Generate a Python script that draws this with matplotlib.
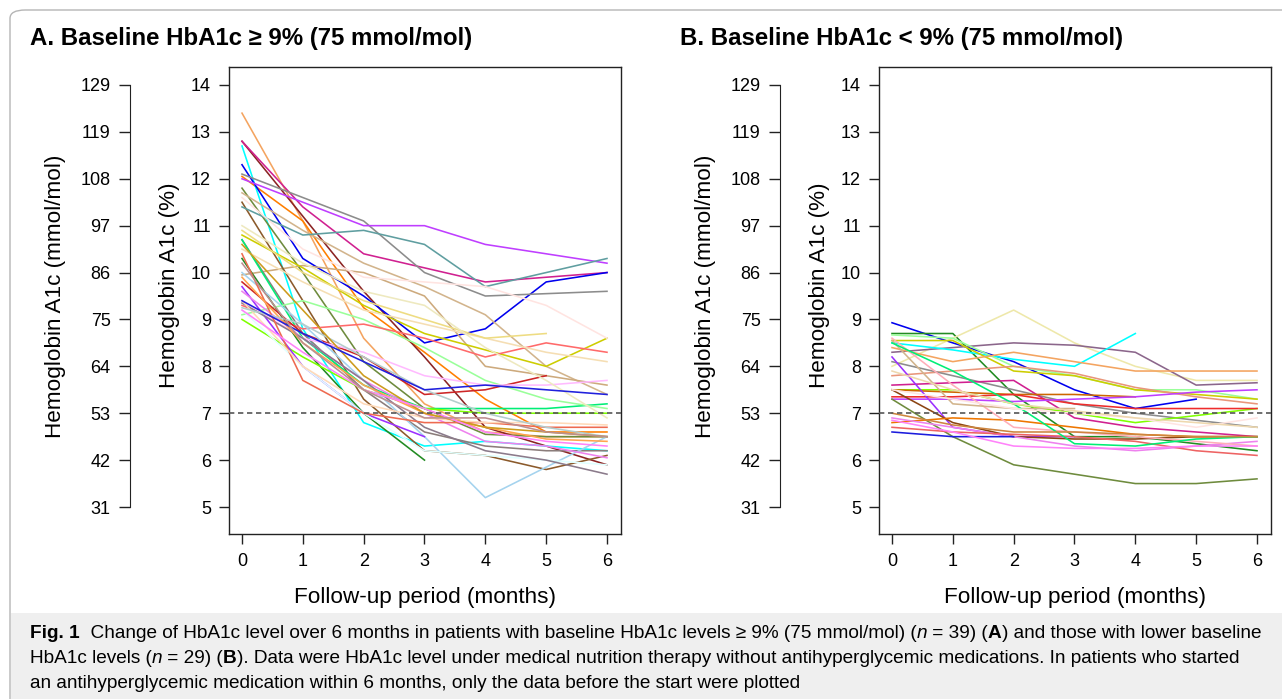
import numpy as np
import matplotlib
matplotlib.use("Agg")
import matplotlib.pyplot as plt
from matplotlib.patches import FancyBboxPatch, Rectangle
from matplotlib.transforms import IdentityTransform

nan = np.nan
months = [0, 1, 2, 3, 4, 5, 6]
pct_ticks = [5, 6, 7, 8, 9, 10, 11, 12, 13, 14]
mmol_labels = ["31", "42", "53", "64", "75", "86", "97", "108", "119", "129"]
target = 7

# Panel A: baseline HbA1c >= 9%  (HbA1c %, months 0..6)
colors_a = ["#F4A460", "#FF7F00", "#8B2323", "#D02090", "#00FFFF", "#0000EE", "#8C8C8C",
            "#BF3EFF", "#6E8B3D", "#D2B48C", "#CDAA7D", "#8B5A2B", "#5F9EA0", "#CDCD00",
            "#8B7D7B", "#228B22", "#00EE76", "#7FFF00", "#9AFF9A", "#FF6A6A", "#CD2626",
            "#A4D3EE", "#9B30FF", "#EE82EE", "#FFBBFF", "#E0FFFF", "#8B7B8B", "#EE6A50",
            "#F5DEB3", "#EEDC82", "#EEE9BF", "#FFE4E1", "#FFDAB9", "#FFA54F", "#B4CDCD",
            "#CD9B1D", "#2020DD", "#FF83FA", "#BC8F8F"]
values_a = [
    [13.4, 11.1, 8.6, 7.2, 6.6, 6.5, 6.5],
    [12.05, 11.1, 9.25, 8.3, 7.3, 6.6, 6.6],
    [12.8, 11.2, 9.6, 8.2, 6.7, 6.3, 5.9],
    [12.8, 11.4, 10.4, 10.1, 9.8, 9.9, 10.0],
    [12.7, 8.8, 6.8, 6.3, 6.4, 6.3, 6.2],
    [12.3, 10.3, 9.5, 8.5, 8.8, 9.8, 10.0],
    [12.1, 11.6, 11.1, 10.0, 9.5, 9.55, 9.6],
    [12.0, 11.5, 11.0, 11.0, 10.6, 10.4, 10.2],
    [11.8, 10.0, 8.1, 7.1, 6.55, 6.5, 6.5],
    [11.7, 10.9, 10.2, 9.7, 9.1, 8.0, 7.4],
    [9.95, 10.15, 10.0, 9.5, 8.0, 7.8, 7.6],
    [11.5, 9.4, 7.3, 6.2, 6.1, 5.8, 6.1],
    [11.4, 10.8, 10.9, 10.6, 9.7, 10.0, 10.3],
    [10.8, 10.1, 9.3, 8.7, 8.35, 8.0, 8.6],
    [10.7, 8.7, 7.5, 6.6, 6.3, 6.2, 6.2],
    [10.3, 8.4, 7.0, 6.0, nan, nan, nan],
    [10.7, 8.6, 7.6, 7.1, 7.1, 7.1, 7.2],
    [9.0, 8.2, 7.5, 7.1, 7.0, 7.0, 7.0],
    [9.1, 9.4, 9.0, 8.4, 7.7, 7.3, 7.1],
    [9.3, 8.8, 8.9, 8.6, 8.2, 8.5, 8.3],
    [9.8, 8.7, 8.2, 7.4, 7.5, 7.8, nan],
    [10.0, 8.9, 7.7, 6.5, 5.2, 5.85, 6.5],
    [9.7, 8.0, 7.0, 6.5, nan, nan, nan],
    [9.6, 8.6, 7.7, 7.0, 6.4, 6.3, 6.05],
    [9.4, 8.6, 8.3, 7.8, 7.6, 7.6, 7.7],
    [9.2, 8.0, 7.0, 6.2, 6.1, 6.0, 5.9],
    [9.35, 8.6, 7.7, 6.7, 6.2, 6.0, 5.7],
    [10.4, 7.7, 7.0, 6.8, 6.8, 6.7, 6.7],
    [10.5, 9.8, 9.2, 8.9, 8.6, 8.3, 8.1],
    [10.9, 10.0, 9.4, 9.0, 8.6, 8.7, nan],
    [11.0, 10.2, 9.6, 9.3, 8.4, 7.7, 6.9],
    [11.6, 10.5, 9.9, 9.8, 9.7, 9.3, 8.6],
    [9.4, 8.0, 7.2, 6.9, 6.8, 6.8, 6.75],
    [9.9, 8.5, 7.6, 7.0, 6.7, 6.45, 6.4],
    [9.25, 8.9, 8.2, 7.5, 7.0, 6.7, 6.5],
    [10.6, 9.2, 7.8, 7.0, 6.7, 6.6, 6.5],
    [9.4, 8.7, 8.1, 7.5, 7.6, 7.5, 7.4],
    [9.2, 8.3, 7.5, 7.1, 6.6, 6.4, 6.3],
    [10.2, 8.5, 7.5, 6.9, 6.9, 6.6, 6.5],
]

# Panel B: baseline HbA1c < 9%
colors_b = ["#0000EE", "#228B22", "#EEE8AA", "#8B668B", "#00FFFF", "#9AFF9A", "#CDCD00",
            "#F4A460", "#E9967A", "#8C8C8C", "#D02090", "#7FFF00", "#CD6600", "#EE2C2C",
            "#9B30FF", "#BF3EFF", "#8B4513", "#6E8B3D", "#EE7600", "#EE82EE", "#EE6363",
            "#1C1CDD", "#FFAEB9", "#D2B48C", "#00EE76", "#FF83FA", "#FFE4E1", "#EED8AE",
            "#CD853F"]
values_b = [
    [8.93, 8.5, 8.1, 7.5, 7.1, 7.3, nan],
    [8.7, 8.7, 7.4, 6.5, 6.5, 6.35, 6.2],
    [8.0, 8.6, 9.2, 8.5, 8.0, 7.7, 7.7],
    [8.3, 8.4, 8.5, 8.45, 8.3, 7.6, 7.65],
    [8.5, 8.35, 8.15, 8.0, 8.7, nan, nan],
    [8.67, 8.6, 8.0, 7.8, 7.5, 7.5, 7.3],
    [8.55, 8.55, 7.9, 7.8, 7.5, 7.4, 7.3],
    [8.4, 8.1, 8.3, 8.1, 7.9, 7.9, 7.9],
    [7.8, 7.9, 8.0, 7.85, 7.55, 7.35, 7.2],
    [8.1, 7.8, 7.5, 7.2, 7.0, 6.85, 6.7],
    [7.6, 7.65, 7.7, 6.9, 6.7, 6.6, 6.5],
    [7.5, 7.5, 7.2, 7.0, 6.8, 6.95, 7.1],
    [7.5, 7.45, 7.4, 7.4, 7.35, nan, nan],
    [7.35, 7.35, 7.4, 7.2, 7.1, 7.1, 7.1],
    [8.2, 6.7, 6.5, 6.5, nan, nan, nan],
    [7.3, 7.3, 7.25, 7.3, 7.35, 7.45, 7.5],
    [7.5, 6.8, 6.5, 6.45, 6.45, 6.5, 6.5],
    [7.3, 6.5, 5.9, 5.7, 5.5, 5.5, 5.6],
    [6.8, 6.9, 6.85, 6.7, 6.55, 6.5, 6.5],
    [6.9, 6.7, 6.5, 6.3, 6.2, 6.3, 6.4],
    [6.7, 6.6, 6.55, 6.5, 6.4, 6.2, 6.1],
    [6.6, 6.5, 6.5, nan, nan, nan, nan],
    [8.6, 7.6, 6.7, 6.6, 6.5, 6.4, 6.3],
    [8.55, 7.2, 7.1, 7.1, nan, nan, nan],
    [8.5, 7.9, 7.2, 6.35, 6.3, 6.45, 6.5],
    [6.85, 6.6, 6.3, 6.25, 6.25, 6.3, 6.3],
    [7.5, 7.3, 7.1, 7.0, 6.9, 6.7, 6.9],
    [7.9, 7.5, 7.2, 7.05, 6.9, 6.8, 6.7],
    [7.0, 6.75, 6.6, 6.6, 6.55, 6.5, 6.5],
]

titles = ["A. Baseline HbA1c \u2265 9% (75 mmol/mol)", "B. Baseline HbA1c < 9% (75 mmol/mol)"]

plt.rcParams['font.family'] = ['Liberation Sans', 'DejaVu Sans']

W, H = 1282, 699
fig = plt.figure(figsize=(W / 100, H / 100), dpi=100)
fig.patch.set_facecolor("white")

def fx(px):
    return px / W

def fy(py):
    return 1 - py / H

# outer frame and caption background (behind axes)
fig.patches.append(FancyBboxPatch((fx(10), fy(715)), fx(1300), fy(10) - fy(715),
                                  boxstyle="round,pad=0,rounding_size=0.012",
                                  transform=fig.transFigure, facecolor="none",
                                  edgecolor="#B5B5B5", linewidth=1.0, zorder=-5))
fig.patches.append(Rectangle((fx(10.6), 0), fx(1290), fy(613), transform=fig.transFigure,
                             facecolor="#EFEFEF", edgecolor="none", zorder=-6))

tick_fs = 13
lab_fs = 16.2

def panel(box_left, mmol_x, title_x, colors, values, title):
    ax = fig.add_axes([fx(box_left), fy(534), fx(392), fy(67) - fy(534)])
    ax.set_ylim(5 - 27 / 46.9, 14 + 18 / 46.9)
    ax.set_xlim(-13 / 60.83, 6 + 14 / 60.83)
    for c, v in zip(colors, values):
        ax.plot(months, v, color=c, lw=1.15, solid_joinstyle='round')
    ax.axhline(target, color="#555555", lw=1.2, ls=(0, (3.2, 2.2)), zorder=5)
    for s in ax.spines.values():
        s.set_linewidth(1.0)
        s.set_color("#222222")
    ax.set_yticks(pct_ticks)
    ax.set_yticklabels([str(t) for t in pct_ticks], fontsize=tick_fs)
    ax.set_xticks(months)
    ax.set_xticklabels([str(m) for m in months], fontsize=tick_fs)
    ax.tick_params(direction='out', length=7, width=1.0, color="#222222", pad=6)
    ax.tick_params(axis='x', pad=7)
    # axis titles placed at the reference positions
    fig.text(fx(box_left - 59), fy(285), "Hemoglobin A1c (%)", fontsize=lab_fs,
             rotation=90, ha='center', va='center')
    fig.text(fx(box_left + 196), fy(597), "Follow-up period (months)", fontsize=lab_fs,
             ha='center', va='center')
    # mmol/mol axis
    ax2 = fig.add_axes([fx(mmol_x), fy(534), 0.0001, fy(67) - fy(534)])
    ax2.set_ylim(ax.get_ylim())
    ax2.patch.set_visible(False)
    for k in ["top", "right", "bottom"]:
        ax2.spines[k].set_visible(False)
    ax2.spines["left"].set_bounds(5, 14)
    ax2.spines["left"].set_color("#222222")
    ax2.set_xticks([])
    ax2.set_yticks(pct_ticks)
    ax2.set_yticklabels(mmol_labels, fontsize=tick_fs)
    ax2.tick_params(direction='out', length=8, width=1.0, color="#222222", pad=6)
    fig.text(fx(mmol_x - 75), fy(296), "Hemoglobin A1c (mmol/mol)", fontsize=lab_fs,
             rotation=90, ha='center', va='center')
    fig.text(fx(title_x), fy(38), title, fontsize=17.3, fontweight='bold', va='center', ha='left')
    return ax

panel(229, 130, 30, colors_a, values_a, titles[0])
panel(879, 780, 680, colors_b, values_b, titles[1])

# caption
cap_fam = ['Liberation Sans', 'DejaVu Sans']
fig.canvas.draw()
renderer = fig.canvas.get_renderer()

cap_lines = [
    [("Fig. 1", 'b'), ("  Change of HbA1c level over 6 months in patients with baseline HbA1c levels \u2265 9% (75 mmol/mol) (", 'n'),
     ("n", 'i'), (" = 39) (", 'n'), ("A", 'b'), (") and those with lower baseline", 'n')],
    [("HbA1c levels (", 'n'), ("n", 'i'), (" = 29) (", 'n'), ("B", 'b'),
     ("). Data were HbA1c level under medical nutrition therapy without antihyperglycemic medications. In patients who started", 'n')],
    [("an antihyperglycemic medication within 6 months, only the data before the start were plotted", 'n')],
]

def runs(x, y, parts, fs, draw=True):
    x0 = x
    made = []
    for txt, style in parts:
        kw = dict(fontsize=fs, family=cap_fam, va='baseline', ha='left',
                  transform=IdentityTransform())
        if style == 'b':
            kw['fontweight'] = 'bold'
        if style == 'i':
            kw['fontstyle'] = 'italic'
        t = fig.text(x, y, txt, **kw)
        made.append(t)
        bb = t.get_window_extent(renderer)
        x = bb.x1
    if not draw:
        for t in made:
            t.remove()
    return x - x0

# choose a caption size so that the first line spans like the reference
w10 = runs(30, -100, cap_lines[0], 10, draw=False)
cap_fs = 10 * 1243 / w10
for i, parts in enumerate(cap_lines):
    runs(30, H - (638 + 25 * i), parts, cap_fs)

fig.savefig("out.png", dpi=100)
